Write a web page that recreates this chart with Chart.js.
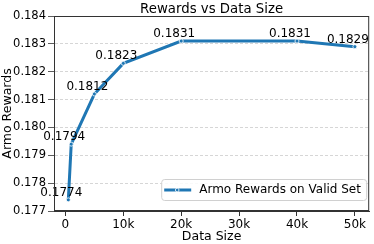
<!DOCTYPE html>
<html><head><meta charset="utf-8">
<script src="https://cdn.jsdelivr.net/npm/chart.js@4/dist/chart.umd.min.js"></script>
<style>html,body{margin:0;padding:0;background:#fff}#wrap{width:374px;height:244px}</style>
</head><body><div id="wrap"><canvas id="c" width="374" height="244"></canvas></div>
<script>
const dataSizes = [500, 1000, 5000, 10000, 20000, 40000, 50000];
const rewards = [0.1774, 0.1794, 0.1812, 0.1823, 0.1831, 0.1831, 0.1829];
const xTicks = [0, 10000, 20000, 30000, 40000, 50000];
const seriesName = 'Armo Rewards on Valid Set';
const chartTitle = 'Rewards vs Data Size';
const FONT = '"DejaVu Sans", sans-serif';
const BLUE = '#1f77b4';

Chart.defaults.color = '#000';
Chart.defaults.font.family = FONT;

const extras = {
  id: 'extras',
  afterDatasetsDraw(chart) {
    const ctx = chart.ctx, a = chart.chartArea;
    const meta = chart.getDatasetMeta(0);
    ctx.save();
    // value labels
    ctx.font = '12px ' + FONT;
    ctx.fillStyle = '#000';
    ctx.textAlign = 'center';
    ctx.textBaseline = 'middle';
    meta.data.forEach((pt, i) => {
      ctx.fillText(rewards[i].toFixed(4), pt.x - 7, pt.y - 7);
    });
    // spines
    ctx.strokeStyle = '#333';
    ctx.lineWidth = 1;
    ctx.strokeRect(a.left + 0.5, a.top + 0.5, a.right - a.left - 1, a.bottom - a.top - 1);
    // title
    ctx.font = '13.3px ' + FONT;
    ctx.textBaseline = 'alphabetic';
    ctx.fillText(chartTitle, (a.left + a.right) / 2, a.top - 3.5);
    // legend
    const lx = a.right - 208, ly = a.bottom - 32, lw = 205, lh = 21;
    ctx.beginPath();
    ctx.roundRect(lx + 0.5, ly + 0.5, lw, lh, 3);
    ctx.fillStyle = 'rgba(255,255,255,0.85)';
    ctx.fill();
    ctx.strokeStyle = '#d0d0d0';
    ctx.stroke();
    const my = ly + lh / 2 + 0.5;
    ctx.beginPath();
    ctx.moveTo(lx + 3, my); ctx.lineTo(lx + 30, my);
    ctx.strokeStyle = BLUE; ctx.lineWidth = 3; ctx.stroke();
    ctx.beginPath();
    ctx.arc(lx + 16, my, 1.8, 0, Math.PI * 2);
    ctx.fillStyle = BLUE; ctx.fill();
    ctx.strokeStyle = '#fff'; ctx.lineWidth = 0.8; ctx.stroke();
    ctx.font = '12px ' + FONT;
    ctx.fillStyle = '#000';
    ctx.textAlign = 'left';
    ctx.textBaseline = 'middle';
    ctx.fillText(seriesName, lx + 38, my);
    ctx.restore();
  }
};

new Chart(document.getElementById('c'), {
  type: 'line',
  data: {
    datasets: [{
      label: seriesName,
      data: dataSizes.map((x, i) => ({x: x, y: rewards[i]})),
      borderColor: BLUE,
      backgroundColor: BLUE,
      borderWidth: 3,
      pointRadius: 2,
      pointBorderColor: '#fff',
      pointBorderWidth: 0.8,
      pointBackgroundColor: BLUE,
      tension: 0
    }]
  },
  options: {
    responsive: false,
    animation: false,
    devicePixelRatio: 1,
    layout: {padding: {left: 0, top: 16, right: 4, bottom: 0}},
    plugins: {legend: {display: false}, title: {display: false}, tooltip: {enabled: false}},
    scales: {
      x: {
        type: 'linear',
        min: -1975, max: 52475,
        afterBuildTicks: s => { s.ticks = xTicks.map(v => ({value: v})); },
        afterFit: s => { s.height = 33; },
        ticks: {font: {size: 12}, padding: 2, maxRotation: 0, callback: v => v === 0 ? '0' : (v / 1000) + 'k'},
        grid: {drawOnChartArea: false, tickLength: 5, color: '#333'},
        border: {display: true, color: '#333'},
        title: {display: true, text: 'Data Size', font: {size: 12.5}, padding: {top: 0, bottom: 0}}
      },
      y: {
        min: 0.177, max: 0.184,
        afterBuildTicks: s => { const t = []; for (let k = 0; k <= 7; k++) t.push({value: +(0.177 + k * 0.001).toFixed(3)}); s.ticks = t; },
        afterFit: s => { s.width = 54; },
        ticks: {font: {size: 11.5}, padding: 2, callback: v => v.toFixed(3)},
        grid: {color: '#cccccc', tickColor: '#333', tickLength: 6, lineWidth: 0.8},
        border: {display: true, color: '#333', dash: [3, 2]},
        title: {display: true, text: 'Armo Rewards', font: {size: 12.5}, padding: {top: 0, bottom: 0}}
      }
    }
  },
  plugins: [extras]
});
</script></body></html>
